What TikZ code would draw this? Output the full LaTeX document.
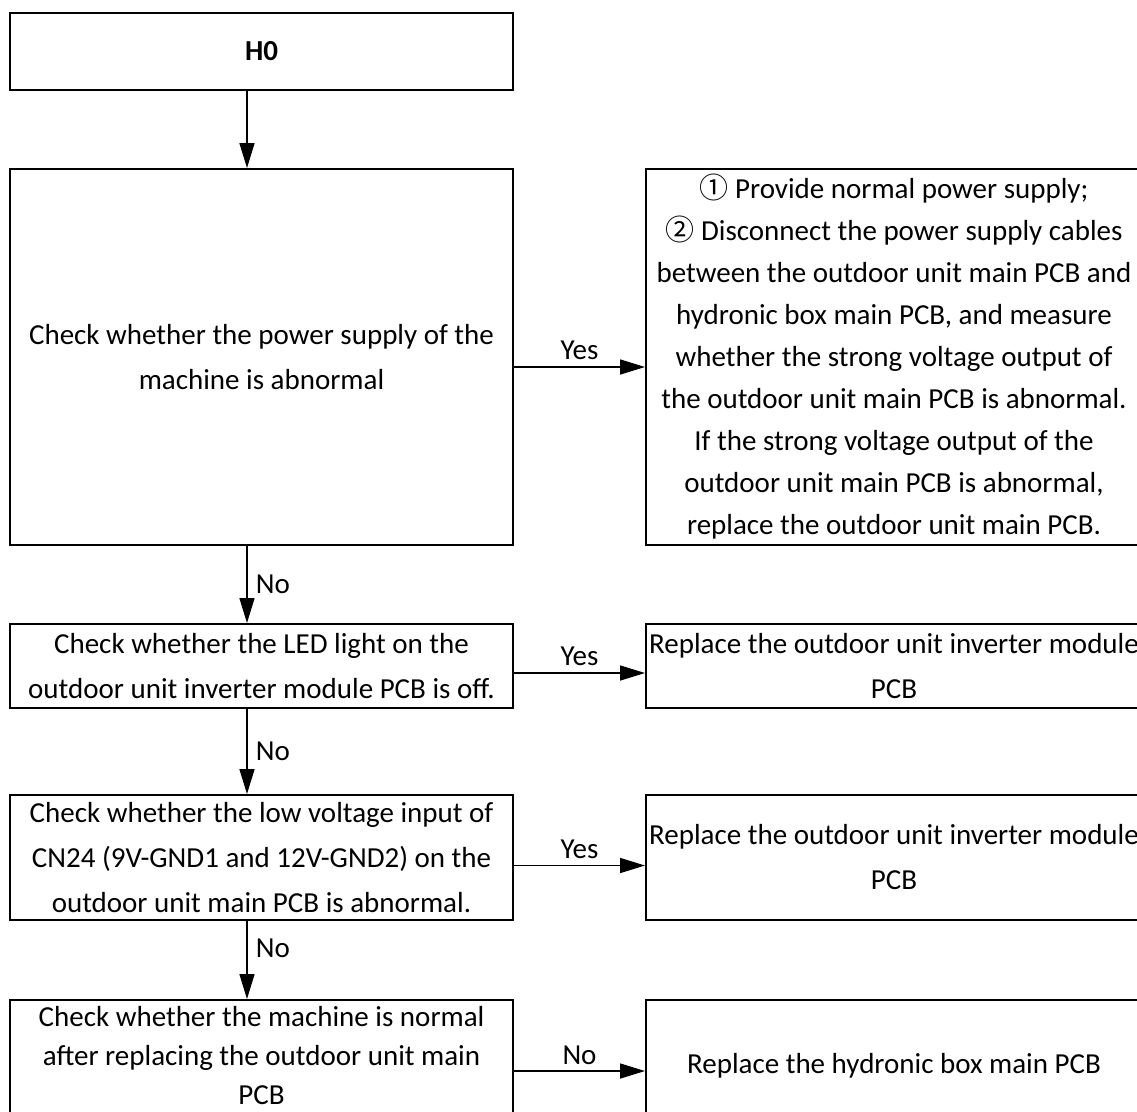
\documentclass[tikz,border=0pt]{standalone}
\usepackage{fontspec}
\usepackage{xcolor}
\usetikzlibrary{arrows.meta, positioning}
\setmainfont{Carlito}
\newfontfamily\cjk{Noto Sans CJK SC}
\definecolor{inkBlack}{RGB}{0,0,0}
\tikzset{
    stepbox/.style={
        rectangle,
        draw=inkBlack,
        line width=2pt,
        align=center,
        inner sep=0pt,
        minimum width=503pt,
        font=\fontsize{29}{45}\selectfont
    },
    actbox/.style={
        rectangle,
        draw=inkBlack,
        line width=2pt,
        align=center,
        inner sep=0pt,
        minimum width=496pt,
        font=\fontsize{29}{45}\selectfont
    },
    flowarrow/.style={-{Triangle[length=25pt, width=15pt]}, line width=1.6pt, draw=inkBlack},
    answer/.style={font=\fontsize{29}{32}\selectfont, inner sep=2pt}
}

\begin{document}
\begin{tikzpicture}[x=1pt, y=1pt, node distance=77pt and 131pt]
    \useasboundingbox (0,0) rectangle (1137,-1111);
    \node[stepbox, anchor=north west, minimum height=77pt, font=\fontsize{29}{32}\selectfont\bfseries] (h0) at (9,-12) {H0};
    \node[stepbox, below=of h0.south west, anchor=north west, minimum height=376pt] (power) {Check whether the power supply of the\\machine is abnormal};
    \node[stepbox, below=of power.south west, anchor=north west, minimum height=84pt] (led) {Check whether the LED light on the\\outdoor unit inverter module PCB is off.};
    \node[stepbox, below=85pt of led.south west, anchor=north west, minimum height=125pt] (cn24) {Check whether the low voltage input of\\CN24 (9V-GND1 and 12V-GND2) on the\\outdoor unit main PCB is abnormal.};
    \node[stepbox, below=78pt of cn24.south west, anchor=north west, minimum height=132pt, text depth=22pt, font=\fontsize{29}{39}\selectfont] (swap) {Check whether the machine is normal\\after replacing the outdoor unit main\\PCB};

    \node[actbox, right=of power, minimum height=376pt, font=\fontsize{29}{42}\selectfont] (fixpower) {{\cjk ①}\ Provide normal power supply;\\{\cjk ②}\ Disconnect the power supply cables\\between the outdoor unit main PCB and\\hydronic box main PCB, and measure\\whether the strong voltage output of\\the outdoor unit main PCB is abnormal.\\If the strong voltage output of the\\outdoor unit main PCB is abnormal,\\replace the outdoor unit main PCB.};
    \node[actbox, right=of led, minimum height=84pt] (fixled) {Replace the outdoor unit inverter module\\PCB};
    \node[actbox, right=of cn24, minimum height=125pt] (fixcn24) {Replace the outdoor unit inverter module\\PCB};
    \node[actbox, right=of swap, minimum height=132pt] (fixbox) {Replace the hydronic box main PCB};

    \draw[flowarrow] ([xshift=-14.5pt]h0.south) -- ([xshift=-14.5pt]power.north);
    \draw[flowarrow] ([xshift=-14.5pt]power.south) -- node[answer, right=6pt]{No} ([xshift=-14.5pt]led.north);
    \draw[flowarrow] ([xshift=-14.5pt]led.south) -- node[answer, right=6pt]{No} ([xshift=-14.5pt]cn24.north);
    \draw[flowarrow] ([xshift=-14.5pt]cn24.south) -- node[answer, right=6pt, yshift=12pt]{No} ([xshift=-14.5pt]swap.north);

    \draw[flowarrow] ([yshift=-10pt]power.east) -- node[answer, above=4pt]{Yes} ([yshift=-10pt]fixpower.west);
    \draw[flowarrow] ([yshift=-7pt]led.east) -- node[answer, above=4pt]{Yes} ([yshift=-7pt]fixled.west);
    \draw[flowarrow] ([yshift=-8pt]cn24.east) -- node[answer, above=4pt]{Yes} ([yshift=-8pt]fixcn24.west);
    \draw[flowarrow] ([yshift=-5pt]swap.east) -- node[answer, above=4pt]{No} ([yshift=-5pt]fixbox.west);
\end{tikzpicture}
\end{document}
